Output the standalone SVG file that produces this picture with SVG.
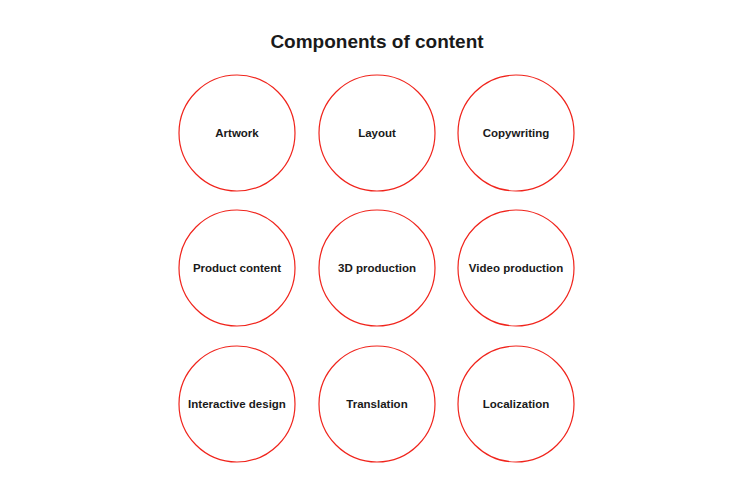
<svg xmlns="http://www.w3.org/2000/svg" width="754" height="490" viewBox="0 0 754 490">
<style>
circle{fill:#fff;stroke:#f0241c;stroke-width:1.2}
text{font-family:"Liberation Sans",Arial,sans-serif;font-weight:bold;fill:#1a1a1a;text-anchor:middle}
.l{font-size:11.5px}
.t{font-size:19px}
</style>
<rect width="754" height="490" fill="#fff"/>
<text class="t" x="377" y="48">Components of content</text>
<g id="connectors"/>
<g id="n1"><circle cx="237" cy="133" r="58"/><text class="l" x="237" y="137">Artwork</text></g>
<g id="n2"><circle cx="377" cy="133" r="58"/><text class="l" x="377" y="137">Layout</text></g>
<g id="n3"><circle cx="516" cy="133" r="58"/><text class="l" x="516" y="137">Copywriting</text></g>
<g id="n4"><circle cx="237" cy="268" r="58"/><text class="l" x="237" y="272">Product content</text></g>
<g id="n5"><circle cx="377" cy="268" r="58"/><text class="l" x="377" y="272">3D production</text></g>
<g id="n6"><circle cx="516" cy="268" r="58"/><text class="l" x="516" y="272">Video production</text></g>
<g id="n7"><circle cx="237" cy="404" r="58"/><text class="l" x="237" y="408">Interactive design</text></g>
<g id="n8"><circle cx="377" cy="404" r="58"/><text class="l" x="377" y="408">Translation</text></g>
<g id="n9"><circle cx="516" cy="404" r="58"/><text class="l" x="516" y="408">Localization</text></g>
</svg>
